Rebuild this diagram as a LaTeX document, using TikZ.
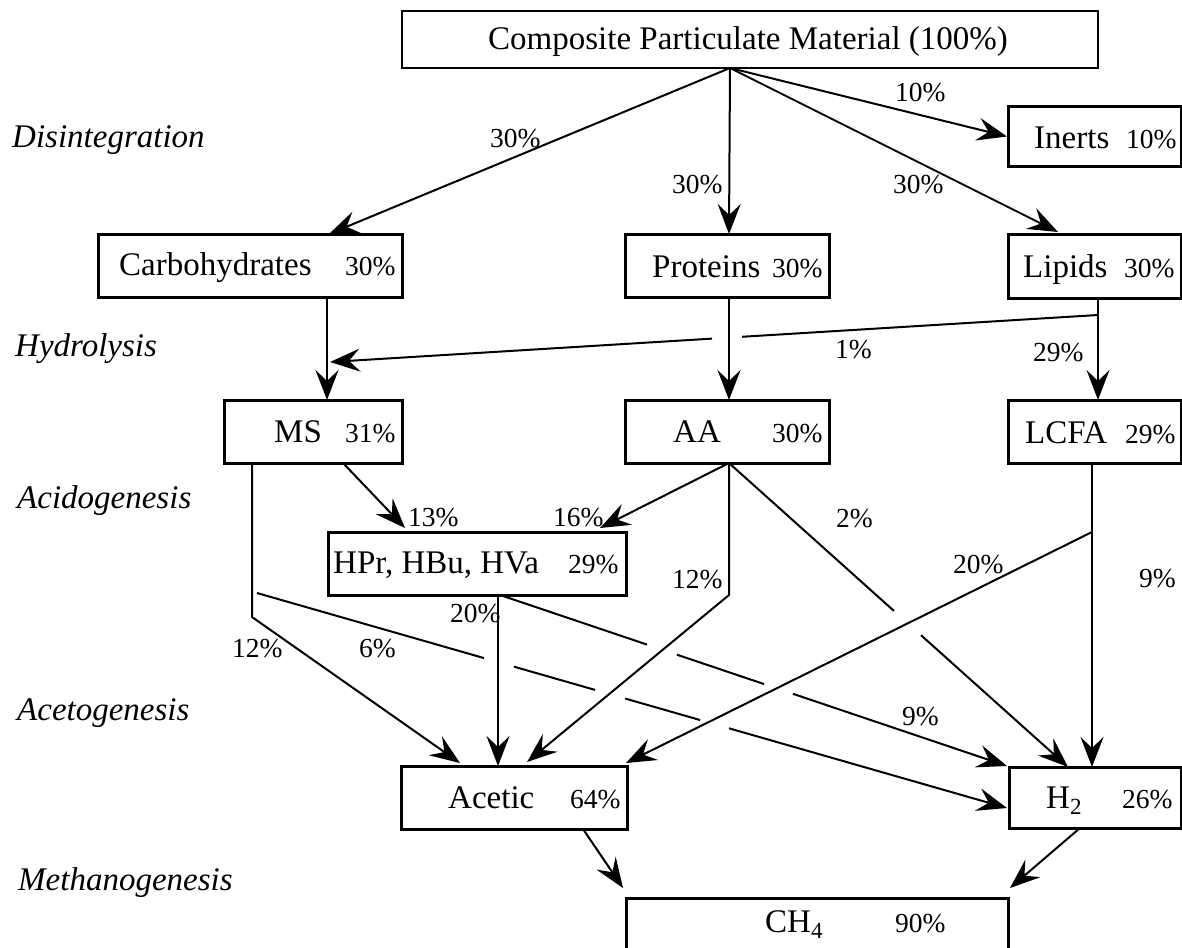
\documentclass[tikz,border=0pt]{standalone}
\usepackage{fontspec}
\setmainfont{Liberation Serif}
\usetikzlibrary{arrows.meta,calc}
\begin{document}
\begin{tikzpicture}[x=1pt,y=-1pt,
  box/.style={draw, line width=3pt, rectangle, inner sep=0pt, outer sep=0pt},
  ln/.style={line width=2pt},
  arr/.style={line width=2pt, -{Stealth[length=30pt,width=23pt,inset=11pt]}},
  mtxt/.style={font=\fontsize{33}{36}\selectfont, inner sep=0pt, anchor=base west},
  ptxt/.style={font=\fontsize{27.5}{30}\selectfont, inner sep=0pt, anchor=base west},
  stg/.style={font=\fontsize{33}{36}\selectfont\itshape, inner sep=0pt, anchor=base west}]
\useasboundingbox (0,0) rectangle (1182,947);

% boxes
\node[box, line width=2pt, minimum width=696pt, minimum height=57pt] (comp) at (750,39.5) {};
\node[box, minimum width=173pt, minimum height=59pt] (inert) at (1094.5,136.5) {};
\node[box, minimum width=304pt, minimum height=63pt] (carb) at (250,265.5) {};
\node[box, minimum width=204pt, minimum height=63pt] (prot) at (727,265.5) {};
\node[box, minimum width=173pt, minimum height=64pt] (lip) at (1094.5,266) {};
\node[box, minimum width=178pt, minimum height=63pt] (ms) at (313,431.5) {};
\node[box, minimum width=204pt, minimum height=63pt] (aa) at (727,431.5) {};
\node[box, minimum width=173pt, minimum height=63pt] (lcfa) at (1094.5,431.5) {};
\node[box, minimum width=298pt, minimum height=63pt] (hpr) at (477,563.5) {};
\node[box, minimum width=226pt, minimum height=63pt] (acetic) at (514,797.5) {};
\node[box, minimum width=172pt, minimum height=61pt] (h2) at (1095,797.5) {};
\node[box, minimum width=382pt, minimum height=60pt] (ch4) at (817,928) {};

% box texts
\node[mtxt] (compt) at (488,50) {Composite Particulate Material (100\%)};
\node[mtxt] (inertt) at (1034,148) {Inerts};
\node[ptxt] (inertp) at (1126,148) {10\%};
\node[mtxt] (carbt) at (119,275) {Carbohydrates};
\node[ptxt] (carbp) at (345,275) {30\%};
\node[mtxt] (prott) at (652,277) {Proteins};
\node[ptxt] (protp) at (772,277) {30\%};
\node[mtxt] (lipt) at (1023,277) {Lipids};
\node[ptxt] (lipp) at (1124,277) {30\%};
\node[mtxt] (mst) at (274,442) {MS};
\node[ptxt] (msp) at (345,442) {31\%};
\node[mtxt] (aat) at (673,442) {AA};
\node[ptxt] (aap) at (772,442) {30\%};
\node[mtxt] (lcfat) at (1025,443) {LCFA};
\node[ptxt] (lcfap) at (1125,443) {29\%};
\node[mtxt] (hprt) at (333,573) {HPr, HBu, HVa};
\node[ptxt] (hprp) at (568,573) {29\%};
\node[mtxt] (acetict) at (448,808) {Acetic};
\node[ptxt] (aceticp) at (570,808) {64\%};
\node[mtxt] (h2t) at (1046,808) {H\textsubscript{2}};
\node[ptxt] (h2p) at (1122,808) {26\%};
\node[mtxt] (ch4t) at (765,932) {CH\textsubscript{4}};
\node[ptxt] (ch4p) at (895,932) {90\%};

% stage labels
\node[stg] (s1) at (12,147) {Disintegration};
\node[stg] (s2) at (15,356) {Hydrolysis};
\node[stg] (s3) at (17,508) {Acidogenesis};
\node[stg] (s4) at (17,720) {Acetogenesis};
\node[stg] (s5) at (18,890) {Methanogenesis};

% junction coordinates
\coordinate (apex) at ($(comp.south)+(-20,0)$);
\coordinate (lipJ) at ($(lip.south)+(3.5,17)$);
\coordinate (msIn) at ($(carb.south)+(80,65)$);
\coordinate (msBend) at ($(ms.south)+(-61,154)$);
\coordinate (ms6) at ($(ms.south)+(-56,130)$);
\coordinate (hprOut) at ($(hpr.south)+(21,0)$);
\coordinate (hprOut2) at ($(hpr.south)+(23,0)$);
\coordinate (aaOut) at ($(aa.south)+(2,0)$);
\coordinate (aaBend) at ($(aa.south)+(2,132)$);
\coordinate (lcfaOut) at ($(lcfa.south)+(-2.5,0)$);
\coordinate (lcfaJ) at ($(lcfa.south)+(-2.5,69)$);
\coordinate (h2in6) at ($(h2.west)+(-2,10.5)$);
\coordinate (h2inH) at ($(h2.north west)+(-2,-1)$);
\coordinate (h2inA) at ($(h2.north)+(-27,0)$);

% disintegration
\draw[arr] (apex) -- ($(carb.north)+(79,0)$);
\draw[arr] (apex) -- ($(prot.north)+(2,0)$);
\draw[arr] (apex) -- ($(lip.north)+(-36.5,-2)$);
\draw[arr] (apex) -- ($(inert.west)+(-1,0)$);
\node[ptxt] (l1) at (490,147) {30\%};
\node[ptxt] (l2) at (672,193) {30\%};
\node[ptxt] (l3) at (893,193) {30\%};
\node[ptxt] (l4) at (895,102) {10\%};

% hydrolysis
\draw[arr] ($(carb.south)+(77,0)$) -- ($(ms.north)+(14,0)$);
\draw[ln] ($(lip.south)+(3.5,0)$) -- (lipJ);
\draw[arr] (lipJ) -- ($(lcfa.north)+(3.5,0)$);
\draw[ln] (lipJ) -- ($(lipJ)!0.4635!(msIn)$);
\draw[arr] ($(lipJ)!0.5026!(msIn)$) -- (msIn);
\draw[arr] ($(prot.south)+(2,0)$) -- (aaOut |- aa.north);
\node[ptxt] (l5) at (835,358) {1\%};
\node[ptxt] (l6) at (1033,361) {29\%};

% acidogenesis
\draw[arr] ($(ms.south)+(30,0)$) -- ($(hpr.north)+(-72,-4)$);
\draw[arr] (aaOut) -- ($(hpr.north)+(123,-4)$);
\draw[arr] ($(ms.south)+(-61,0)$) -- (msBend) -- ($(acetic.north)+(-54,-3)$);
\draw[arr] (aaOut) -- (aaBend) -- ($(acetic.north)+(13,-4)$);
\draw[ln] (aaOut) -- ($(aaOut)!0.4867!(h2inA)$);
\draw[arr] ($(aaOut)!0.5664!(h2inA)$) -- (h2inA);
\draw[ln] (lcfaOut) -- (lcfaJ);
\draw[arr] (lcfaJ) -- ($(h2.north)+(-3,0)$);
\draw[arr] (lcfaJ) -- ($(acetic.north east)+(-1,-3)$);
\node[ptxt] (l7) at (408,526) {13\%};
\node[ptxt] (l8) at (553,526) {16\%};
\node[ptxt] (l9) at (836,527) {2\%};
\node[ptxt] (l10) at (953,573) {20\%};
\node[ptxt] (l11) at (672,588) {12\%};
\node[ptxt] (l12) at (1139,587) {9\%};

% acetogenesis
\draw[arr] (hprOut) -- ($(acetic.north)+(-16,0)$);
\draw[ln] (hprOut2) -- ($(hprOut2)!0.290!(h2inH)$);
\draw[ln] ($(hprOut2)!0.349!(h2inH)$) -- ($(hprOut2)!0.5207!(h2inH)$);
\draw[arr] ($(hprOut2)!0.5779!(h2inH)$) -- (h2inH);
\draw[ln] (ms6) -- ($(ms6)!0.3027!(h2in6)$);
\draw[ln] ($(ms6)!0.3427!(h2in6)$) -- ($(ms6)!0.4507!(h2in6)$);
\draw[ln] ($(ms6)!0.4907!(h2in6)$) -- ($(ms6)!0.5907!(h2in6)$);
\draw[arr] ($(ms6)!0.6293!(h2in6)$) -- (h2in6);
\node[ptxt] (l13) at (450,622) {20\%};
\node[ptxt] (l14) at (232,657) {12\%};
\node[ptxt] (l15) at (359,657) {6\%};
\node[ptxt] (l16) at (902,725) {9\%};

% methanogenesis
\draw[arr] ($(acetic.south)+(69,0)$) -- ($(ch4.north west)+(-3,-10)$);
\draw[arr] ($(h2.south)+(-15,0)$) -- ($(ch4.north east)+(2,-10)$);
\end{tikzpicture}
\end{document}
